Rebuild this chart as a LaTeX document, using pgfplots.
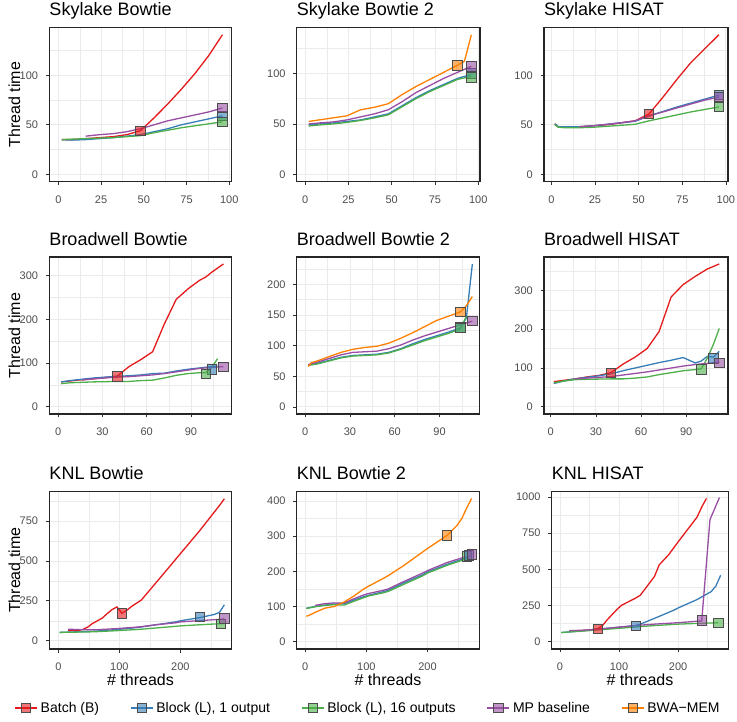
\documentclass[border=0pt]{standalone}
\usepackage{fontspec}
\setmainfont{Liberation Sans}
\usepackage{pgfplots}
\pgfplotsset{compat=1.18}
\definecolor{cB}{HTML}{E41A1C}
\definecolor{cLa}{HTML}{377EB8}
\definecolor{cLb}{HTML}{4DAF4A}
\definecolor{cMP}{HTML}{984EA3}
\definecolor{cBW}{HTML}{FF7F00}
\definecolor{gridmaj}{HTML}{EBEBEB}
\definecolor{tickgrey}{HTML}{4D4D4D}
\newcommand{\frameit}{\draw[black!85, line width=1.3pt, line join=miter] (rel axis cs:0,0) -- (rel axis cs:1,0) -- (rel axis cs:1,1) -- (rel axis cs:0,1) -- cycle;}
\pgfplotsset{
  panel/.style={scale only axis, anchor=north west,
    axis line style={black!85, line width=1.3pt},
    tick align=outside, xtick pos=bottom, ytick pos=left, major tick length=3.5pt, minor tick length=0pt,
    major tick style={black!80, line width=0.7pt},
    grid=both, major grid style={color=gridmaj, line width=0.9pt},
    minor grid style={color=gridmaj, line width=0.45pt},
    ticklabel style={font=\fontsize{11}{13}\selectfont, text=tickgrey},
    xticklabel style={anchor=base, inner sep=0pt, yshift=-18pt},
    yticklabel style={anchor=east, inner sep=0pt, xshift=-7.5pt},
    every axis title shift=0pt,
    title style={at={(0,1)}, anchor=base west, font=\fontsize{18}{20}\selectfont, yshift=11.5pt, inner sep=0pt},
    /pgf/number format/assume math mode=true, /pgf/number format/1000 sep={},
    clip=false,
    every axis y label/.style={at={(axis description cs:-0.16,0.5)}, rotate=90, anchor=base, inner sep=0pt, font=\fontsize{16}{18}\selectfont},
    every axis x label/.style={at={(axis description cs:0.5,-0.229)}, anchor=base, inner sep=0pt, font=\fontsize{16}{18}\selectfont},
  },
  lB/.style={color=cB, line width=1.3pt, no marks},
  lLa/.style={color=cLa, line width=1.3pt, no marks},
  lLb/.style={color=cLb, line width=1.3pt, no marks},
  lMP/.style={color=cMP, line width=1.3pt, no marks},
  lBW/.style={color=cBW, line width=1.3pt, no marks},
  sq/.style={only marks, mark=square*, mark size=4.7pt, mark options={fill=#1, fill opacity=0.6, draw=black!70, line width=0.7pt}},
  lg/.style={color=#1, line width=1.3pt, mark=square*, mark size=4.7pt, mark options={fill=#1, fill opacity=0.6, draw=black!70, line width=0.7pt}},
}
\begin{document}
\begin{tikzpicture}
\useasboundingbox (0,0) rectangle (737pt,722pt);
% ---------- Row 1 ----------
\begin{axis}[panel, at={(49.3pt,694.7pt)}, width=182.4pt, height=154.4pt,
  title={Skylake Bowtie}, ylabel={Thread time},
  xmin=-5.3, xmax=101.4, ymin=-7.5, ymax=148.5,
  xtick={0,25,50,75,100}, minor xtick={12.5,37.5,62.5,87.5},
  ytick={0,50,100}, minor ytick={25,75,125}]
\frameit
\addplot[lB] coordinates {(2,35)(8,35)(16,36)(24,37)(32,38)(40,40)(48,44)(56,57)(64,71)(72,86)(80,102)(88,120)(96,141)};
\addplot[lLa] coordinates {(2,35)(8,34.5)(16,35)(24,36)(32,37)(40,38.5)(48,40)(56,43)(64,46)(72,50)(80,53)(88,56)(96,59)};
\addplot[lLb] coordinates {(2,35)(8,35.5)(16,36)(24,36.5)(32,37)(40,38)(48,39)(56,42)(64,44.5)(72,47)(80,49)(88,51)(96,53)};
\addplot[lMP] coordinates {(16,38.5)(24,40)(32,41)(40,43)(48,46)(56,50)(64,54)(72,57)(80,60)(88,63)(96,67)};
\addplot[sq=cB] coordinates {(48,44)};
\addplot[sq=cLa] coordinates {(96,59)};
\addplot[sq=cLb] coordinates {(96,53)};
\addplot[sq=cMP] coordinates {(96,67)};
\end{axis}
\begin{axis}[panel, at={(296.7pt,694.7pt)}, width=183.3pt, height=154.4pt,
  title={Skylake Bowtie 2},
  xmin=-4.9, xmax=101, ymin=-7, ymax=145.5,
  xtick={0,25,50,75,100}, minor xtick={12.5,37.5,62.5,87.5},
  ytick={0,50,100}, minor ytick={25,75,125}]
\frameit
\addplot[lLa] coordinates {(2,49)(8,50)(16,51)(24,52.5)(32,54)(40,57)(48,60)(56,68)(64,76)(72,83)(80,89)(88,95)(96,99)};
\addplot[lLb] coordinates {(2,48)(8,49)(16,50)(24,51.5)(32,53.5)(40,56)(48,59)(56,67)(64,75)(72,82)(80,88)(88,94)(96,97)};
\addplot[lMP] coordinates {(2,50)(8,51)(16,52)(24,54)(32,57)(40,60)(48,64)(56,72)(64,81)(72,88)(80,95)(88,101)(96,107)};
\addplot[lBW] coordinates {(2,52.5)(8,54)(16,56)(24,58)(32,64)(40,66.5)(48,70)(56,79)(64,87)(72,94)(80,101)(88,108)(92,112)(96,138)};
\addplot[sq=cLa] coordinates {(96,100)};
\addplot[sq=cLb] coordinates {(96,96)};
\addplot[sq=cMP] coordinates {(96,107)};
\addplot[sq=cBW] coordinates {(88,108)};
\end{axis}
\begin{axis}[panel, at={(544pt,694.7pt)}, width=184pt, height=154.4pt,
  title={Skylake HISAT},
  xmin=-4.2, xmax=101.2, ymin=-7.5, ymax=148.5,
  xtick={0,25,50,75,100}, minor xtick={12.5,37.5,62.5,87.5},
  ytick={0,50,100}, minor ytick={25,75,125}]
\frameit
\addplot[lB] coordinates {(2,51)(4,48)(8,48)(16,48)(24,49)(32,50)(40,52)(48,54)(56,61)(64,78)(72,96)(80,113)(88,127)(96,141)};
\addplot[lLa] coordinates {(2,51)(4,48)(8,48)(16,48)(24,49)(32,50.5)(40,52)(48,53.5)(56,59)(64,63.5)(72,68)(80,72)(88,76)(96,80)};
\addplot[lLb] coordinates {(2,50)(4,47.5)(8,47)(16,47)(24,47.5)(32,48.5)(40,49.5)(48,50.5)(56,54)(64,57)(72,60)(80,63)(88,65.5)(96,68)};
\addplot[lMP] coordinates {(16,48)(24,49)(32,50.5)(40,52)(48,54)(56,59)(64,63)(72,67)(80,71)(88,75)(96,78)};
\addplot[sq=cB] coordinates {(56,61)};
\addplot[sq=cLa] coordinates {(96,80)};
\addplot[sq=cLb] coordinates {(96,68)};
\addplot[sq=cMP] coordinates {(96,78)};
\end{axis}
% ---------- Row 2 ----------
\begin{axis}[panel, at={(49.3pt,465pt)}, width=182.4pt, height=157pt,
  title={Broadwell Bowtie}, ylabel={Thread time},
  xmin=-6, xmax=117.6, ymin=-16.5, ymax=343,
  xtick={0,30,60,90}, minor xtick={15,45,75,105},
  ytick={0,100,200,300}, minor ytick={50,150,250}]
\frameit
\addplot[lB] coordinates {(2,57)(8,59)(16,62)(24,64)(32,67)(40,70)(48,92)(56,108)(64,126)(72,190)(80,246)(88,270)(96,290)(100,297)(104,308)(112,327)};
\addplot[lLa] coordinates {(2,57)(8,60)(16,63)(24,66)(32,68)(40,70)(48,71)(56,73)(64,76)(72,77)(80,82)(88,86)(96,89)(104,92)(108,93)};
\addplot[lLb] coordinates {(2,53)(8,55)(16,56)(24,57)(32,57.5)(40,58)(48,58)(56,60)(64,61)(72,66)(80,72)(88,76)(96,78)(100,78)(104,90)(108,110)};
\addplot[lMP] coordinates {(16,61)(24,64)(32,66)(40,68)(48,69)(56,71)(64,73)(72,76)(80,80)(88,84)(96,88)(104,90)(112,92)};
\addplot[sq=cB] coordinates {(40,70)};
\addplot[sq=cLa] coordinates {(104,86)};
\addplot[sq=cLb] coordinates {(100,76)};
\addplot[sq=cMP] coordinates {(112,92)};
\end{axis}
\begin{axis}[panel, at={(296.7pt,465pt)}, width=182.5pt, height=157pt,
  title={Broadwell Bowtie 2},
  xmin=-5.7, xmax=116.6, ymin=-11.5, ymax=244.6,
  xtick={0,30,60,90}, minor xtick={15,45,75,105},
  ytick={0,50,100,150,200}, minor ytick={25,75,125,175,225}]
\frameit
\addplot[lLa] coordinates {(2,68)(8,71)(16,76)(24,81)(32,84)(40,85)(48,86)(56,89)(64,95)(72,103)(80,110)(88,116)(96,122)(104,129)(108,145)(112,233)};
\addplot[lLb] coordinates {(2,68)(8,70)(16,75)(24,80)(32,83)(40,84)(48,85)(56,88)(64,94)(72,101)(80,108)(88,114)(96,120)(104,127)(108,148)};
\addplot[lMP] coordinates {(2,69)(8,73)(16,79)(24,85)(32,89)(40,90)(48,91)(56,95)(64,101)(72,109)(80,116)(88,122)(96,128)(104,134)(112,140)};
\addplot[lBW] coordinates {(2,66)(4,72)(8,75)(16,82)(24,89)(32,94)(40,97)(48,99)(56,104)(64,112)(72,121)(80,131)(88,141)(96,148)(104,155)(108,165)(112,180)};
\addplot[sq=cLa] coordinates {(104,130)};
\addplot[sq=cLb] coordinates {(104,129)};
\addplot[sq=cMP] coordinates {(112,140)};
\addplot[sq=cBW] coordinates {(104,155)};
\end{axis}
\begin{axis}[panel, at={(544pt,465pt)}, width=184pt, height=157pt,
  title={Broadwell HISAT},
  xmin=-4.5, xmax=117.8, ymin=-18.4, ymax=386,
  xtick={0,30,60,90}, minor xtick={15,45,75,105},
  ytick={0,100,200,300}, minor ytick={50,150,250,350}]
\frameit
\addplot[lB] coordinates {(2,65)(8,68)(16,72)(24,77)(32,81)(40,88)(48,110)(56,128)(64,150)(72,194)(80,283)(88,315)(96,336)(104,355)(112,368)};
\addplot[lLa] coordinates {(2,60)(8,66)(16,72)(24,76)(32,80)(40,85)(48,93)(56,100)(64,107)(72,114)(80,120)(88,127)(96,113)(100,118)(104,130)(108,128)(112,143)};
\addplot[lLb] coordinates {(2,62)(8,66)(16,70)(24,71)(32,71.5)(40,72)(48,72)(56,74)(64,77)(72,83)(80,88)(88,93)(96,96)(100,98)(104,125)(108,160)(112,202)};
\addplot[lMP] coordinates {(16,72)(24,74)(32,76)(40,78)(48,82)(56,86)(64,90)(72,95)(80,100)(88,105)(96,109)(104,112)(112,115)};
\addplot[sq=cB] coordinates {(40,88)};
\addplot[sq=cLa] coordinates {(108,125)};
\addplot[sq=cLb] coordinates {(100,97)};
\addplot[sq=cMP] coordinates {(112,114)};
\end{axis}
% ---------- Row 3 ----------
\begin{axis}[panel, at={(49.3pt,230.5pt)}, width=182.4pt, height=157.5pt,
  title={KNL Bowtie}, ylabel={Thread time}, xlabel={\# threads},
  xmin=-14.8, xmax=284, ymin=-52, ymax=935.6,
  xtick={0,100,200}, minor xtick={50,150,250},
  ytick={0,250,500,750}, minor ytick={125,375,625,875}]
\frameit
\addplot[lB] coordinates {(16,63)(32,65)(40,70)(48,85)(56,108)(64,125)(72,142)(80,170)(88,195)(96,212)(104,172)(112,190)(120,215)(136,255)(168,400)(200,546)(232,692)(264,848)(272,890)};
\addplot[lLa] coordinates {(2,52)(16,54)(32,56)(48,58)(64,61)(96,70)(128,82)(136,86)(160,100)(192,118)(200,125)(232,145)(256,165)(264,178)(272,225)};
\addplot[lLb] coordinates {(2,52)(16,53)(32,54)(48,55)(64,57)(96,63)(128,70)(136,72)(160,80)(192,90)(200,93)(232,100)(256,105)(264,106)(272,108)};
\addplot[lMP] coordinates {(16,72)(32,70)(48,68)(64,69)(96,76)(128,85)(136,88)(160,100)(192,112)(200,118)(232,126)(256,132)(272,136)};
\addplot[sq=cB] coordinates {(104,172)};
\addplot[sq=cLa] coordinates {(232,150)};
\addplot[sq=cLb] coordinates {(266,104)};
\addplot[sq=cMP] coordinates {(272,140)};
\end{axis}
\begin{axis}[panel, at={(296.7pt,230.5pt)}, width=182.6pt, height=157.5pt,
  title={KNL Bowtie 2}, xlabel={\# threads},
  xmin=-13.8, xmax=284.6, ymin=-21, ymax=427,
  xtick={0,100,200}, minor xtick={50,150,250},
  ytick={0,100,200,300,400}, minor ytick={50,150,250,350}]
\frameit
\addplot[lLa] coordinates {(2,95)(16,100)(32,104)(48,107)(64,108)(80,118)(96,128)(104,132)(128,142)(136,146)(160,166)(192,190)(200,198)(232,220)(256,234)(268,240)};
\addplot[lLb] coordinates {(2,94)(16,99)(32,103)(48,105)(64,104)(80,115)(96,125)(104,130)(128,139)(136,143)(160,162)(192,187)(200,195)(232,217)(256,231)(264,236)};
\addplot[lMP] coordinates {(16,103)(32,108)(48,110)(64,110)(80,122)(96,133)(104,137)(128,146)(136,150)(160,170)(192,195)(200,202)(232,225)(256,238)(272,245)};
\addplot[lBW] coordinates {(2,72)(8,76)(16,83)(32,95)(48,100)(64,113)(80,130)(96,150)(104,158)(128,180)(136,188)(160,215)(192,255)(200,265)(232,302)(248,330)(256,350)(264,380)(272,407)};
\addplot[sq=cLb] coordinates {(264,242)};
\addplot[sq=cLa] coordinates {(268,245)};
\addplot[sq=cMP] coordinates {(272,248)};
\addplot[sq=cBW] coordinates {(232,302)};
\end{axis}
\begin{axis}[panel, at={(551.7pt,230.5pt)}, width=176.6pt, height=157.5pt,
  title={KNL HISAT}, xlabel={\# threads},
  xmin=-14, xmax=285, ymin=-52, ymax=1038,
  xtick={0,100,200}, minor xtick={50,150,250},
  ytick={0,250,500,750,1000}, minor ytick={125,375,625,875}]
\frameit
\addplot[lB] coordinates {(16,73)(32,74)(48,78)(64,88)(72,110)(80,150)(96,220)(104,250)(128,300)(136,320)(160,450)(168,530)(184,600)(200,689)(232,860)(240,930)(248,990)};
\addplot[lLa] coordinates {(2,62)(16,66)(32,72)(48,78)(64,85)(96,97)(128,110)(136,120)(160,160)(192,215)(200,232)(232,290)(256,345)(264,384)(272,458)};
\addplot[lLb] coordinates {(2,62)(16,66)(32,70)(48,75)(64,80)(96,90)(128,100)(136,103)(160,110)(192,118)(200,120)(232,125)(256,128)(268,130)};
\addplot[lMP] coordinates {(16,75)(32,77)(48,80)(64,85)(96,98)(128,110)(136,113)(160,120)(192,128)(200,130)(232,140)(240,142)(254,844)(270,996)};
\addplot[sq=cB] coordinates {(64,88)};
\addplot[sq=cLa] coordinates {(128,107)};
\addplot[sq=cLb] coordinates {(268,128)};
\addplot[sq=cMP] coordinates {(240,146)};
\end{axis}
% ---------- Legend ----------
\begin{axis}[at={(0pt,0pt)}, anchor=south west, scale only axis, width=737pt, height=28pt,
  hide axis, xmin=0, xmax=1, ymin=0, ymax=1,
  legend columns=5,
  legend image code/.code={\draw[mark repeat=2,mark phase=2,#1] plot coordinates {(0pt,0pt) (11pt,0pt) (22pt,0pt)};},
  legend style={at={(0.5,0.5)}, anchor=center, draw=none, fill=none,
    font=\fontsize{14}{16}\selectfont, inner sep=0pt,
    /tikz/every even column/.append style={column sep=28pt},
    nodes={inner sep=3pt}}]
\addlegendimage{lg=cB}
\addlegendentry{Batch (B)}
\addlegendimage{lg=cLa}
\addlegendentry{Block (L), 1 output}
\addlegendimage{lg=cLb}
\addlegendentry{Block (L), 16 outputs}
\addlegendimage{lg=cMP}
\addlegendentry{MP baseline}
\addlegendimage{lg=cBW}
\addlegendentry{BWA−MEM}
\end{axis}
\end{tikzpicture}
\end{document}
